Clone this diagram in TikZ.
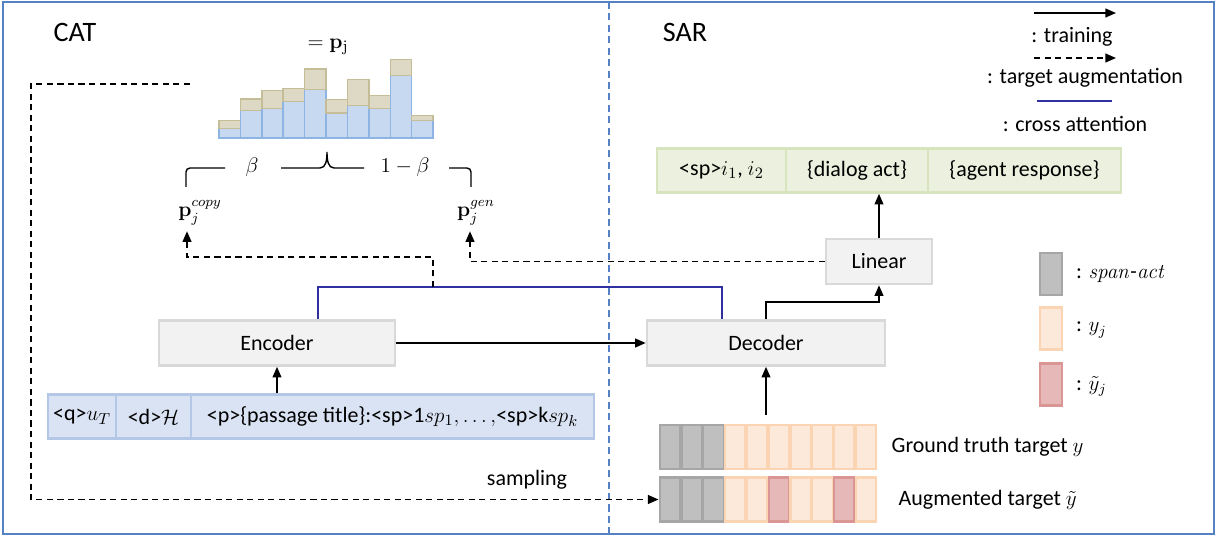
\documentclass[tikz,border=0pt]{standalone}
\usepackage{amsmath}
\usepackage[no-math]{fontspec}
\setmainfont{Carlito}
\usetikzlibrary{arrows.meta,calc}

\definecolor{framecol}{RGB}{84,130,196}
\definecolor{boxfill}{RGB}{242,242,242}
\definecolor{boxline}{RGB}{217,217,217}
\definecolor{inpfill}{RGB}{218,227,243}
\definecolor{inpline}{RGB}{180,199,231}
\definecolor{outfill}{RGB}{235,241,222}
\definecolor{outborder}{RGB}{215,228,189}
\definecolor{histblue}{RGB}{198,217,240}
\definecolor{histblueline}{RGB}{141,180,226}
\definecolor{histtan}{RGB}{221,217,196}
\definecolor{histtanline}{RGB}{196,189,151}
\definecolor{actfill}{RGB}{191,191,191}
\definecolor{actline}{RGB}{166,166,166}
\definecolor{yfill}{RGB}{253,233,217}
\definecolor{yline}{RGB}{251,212,180}
\definecolor{augfill}{RGB}{230,185,184}
\definecolor{augline}{RGB}{217,150,148}
\definecolor{attncol}{RGB}{48,48,160}

\tikzset{
    blockbox/.style={draw=boxline, fill=boxfill, line width=1.5pt, minimum height=0.9cm, inner sep=0pt},
    inpcell/.style={draw=inpline, fill=inpfill, line width=1.5pt, minimum height=0.88cm, inner sep=0pt},
    outcell/.style={draw=outborder, fill=outfill, line width=1.5pt, minimum height=0.88cm, inner sep=0pt},
    tokcell/.style={line width=1.3pt, minimum width=0.41cm, minimum height=0.88cm, inner sep=0pt},
    actcell/.style={tokcell, draw=actline, fill=actfill},
    ycell/.style={tokcell, draw=yline, fill=yfill},
    augcell/.style={tokcell, draw=augline, fill=augfill},
    legbox/.style={line width=1.3pt, minimum width=0.44cm, minimum height=0.84cm, inner sep=0pt},
    trainarrow/.style={-{Triangle[length=6pt,width=5pt]}, line width=0.9pt},
    dasharrow/.style={trainarrow, dash pattern=on 3.5pt off 2.5pt},
    xattnline/.style={draw=attncol, line width=0.9pt},
}

\begin{document}
\begin{tikzpicture}[x=0.02cm, y=-0.02cm, every node/.style={font=\fontsize{12.5}{15}\selectfont}]

    \useasboundingbox (0,0) rectangle (1218,537);

    % frame and divider
    \draw[framecol, line width=1.2pt] (3,2) rectangle (1214,534);
    \draw[framecol, line width=0.8pt, dash pattern=on 4pt off 2.5pt] (609,2) -- (609,534);

    \node (cattitle) at (75,32) {\fontsize{16}{19}\selectfont CAT};
    \node (sartitle) at (685,32) {\fontsize{16}{19}\selectfont SAR};

    % histogram p_j
    \foreach \i/\b/\t in {0/9.6/17.6, 1/27.3/39, 2/29.3/47.3, 3/36.3/49.3, 4/48.3/69,
                          5/25/38.3, 6/32.3/58.3, 7/29.3/42.6, 8/62.3/78.3, 9/17.3/22.6} {
        \draw[fill=histblue, draw=histblueline, line width=0.8pt]
            (219+21.4*\i,138) rectangle (240.4+21.4*\i,138-\b);
        \draw[fill=histtan, draw=histtanline, line width=0.8pt]
            (219+21.4*\i,138-\b) rectangle (240.4+21.4*\i,138-\t);
    }
    \node (pj) at (328,47) {$=\mathbf{p}_{\mathrm{j}}$};

    % beta brace
    \draw[line width=0.8pt] (186,187) -- (186,172) to[out=90,in=180] (190,168) -- (225,168);
    \node (beta) at (252,167) {\large$\beta$};
    \draw[line width=0.8pt] (281,168) -- (320,168) .. controls (326,168) and (327,160) .. (327,152)
        .. controls (327,160) and (328,168) .. (334,168) -- (364,168);
    \node (onembeta) at (405,167) {\large$1-\beta$};
    \draw[line width=0.8pt] (449,168) -- (467,168) to[out=0,in=90] (471,172) -- (471,187);

    \node (pcopy) at (200,213) {\large$\mathbf{p}_j^{copy}$};
    \node (pgen) at (476,213) {\large$\mathbf{p}_j^{gen}$};

    % encoder side
    \node[inpcell, minimum width=1.36cm] (inpq) at (82,416.5) {<q>$u_T$};
    \node[inpcell, minimum width=1.5cm] (inpd) at (153.5,416.5) {<d>$\mathcal{H}$};
    \node[inpcell, minimum width=8.06cm] (inpp) at (392.5,416.5)
        {<p>\{passage title\}:<sp>1$sp_1,\ldots,$<sp>k$sp_k$};
    \node[blockbox, minimum width=4.72cm] (encoder) at (277,343) {Encoder};

    % decoder side
    \node[blockbox, minimum width=4.76cm] (decoder) at (766,343) {Decoder};
    \node[blockbox, minimum width=2.12cm] (linear) at (879,261.5) {Linear};
    \node[outcell, minimum width=2.58cm] (outsp) at (721.5,170.5) {<sp>$i_1$, $i_2$};
    \node[outcell, minimum width=2.84cm] (outact) at (857,170.5) {\{dialog act\}};
    \node[outcell, minimum width=3.86cm] (outresp) at (1024.5,170.5) {\{agent response\}};

    % target rows
    \foreach \i in {0,...,9} {
        \ifnum\i<3
            \node[actcell] (gt\i) at (669.9+21.8*\i,447) {};
            \node[actcell] (aug\i) at (669.9+21.8*\i,499.5) {};
        \else
            \node[ycell] (gt\i) at (669.9+21.8*\i,447) {};
            \ifnum\i=5
                \node[augcell] (aug\i) at (669.9+21.8*\i,499.5) {};
            \else\ifnum\i=8
                \node[augcell] (aug\i) at (669.9+21.8*\i,499.5) {};
            \else
                \node[ycell] (aug\i) at (669.9+21.8*\i,499.5) {};
            \fi\fi
        \fi
    }
    \node[anchor=west] (gtlabel) at ([xshift=0.16cm]gt9.east) {Ground truth target $y$};
    \node[anchor=west] (auglabel) at ([xshift=0.3cm]aug9.east) {Augmented target $\tilde{y}$};

    % legend
    \coordinate (trainA) at (1034,13);
    \coordinate (trainB) at (1116,13);
    \draw[trainarrow] (trainA) -- (trainB);
    \node (trainlabel) at (1072,37) {: training};
    \coordinate (augA) at (1034,58);
    \coordinate (augB) at (1116,58);
    \draw[dasharrow] (augA) -- (augB);
    \node (auglegend) at (1085,78) {: target augmentation};
    \coordinate (attnA) at (1037,101);
    \coordinate (attnB) at (1112,101);
    \draw[xattnline] (attnA) -- (attnB);
    \node (attnlabel) at (1075,124) {: cross attention};

    \node[legbox, draw=actline, fill=actfill] (legact) at (1051,274) {};
    \node[anchor=west] (legactlabel) at (1070,274) {: \large$\mathit{span}\mbox{-}\mathit{act}$};
    \node[legbox, draw=yline, fill=yfill] (legy) at (1051,328.5) {};
    \node[anchor=west] (legylabel) at (1070,330) {: \large$y_j$};
    \node[legbox, draw=augline, fill=augfill] (legaug) at (1051,384.5) {};
    \node[anchor=west] (legauglabel) at (1070,386) {: \large$\tilde{y}_j$};

    % cross attention
    \coordinate (attntop) at (520,287);
    \draw[xattnline] ([xshift=0.82cm]encoder.north) |- (attntop) -| ([xshift=-0.88cm]decoder.north);

    % training arrows
    \draw[trainarrow] (encoder.south |- inpp.north) -- (encoder.south);
    \draw[trainarrow] (encoder) -- (decoder);
    \draw[trainarrow] ([yshift=0.18cm]decoder.south |- gt0.north) -- (decoder.south);
    \draw[trainarrow] (decoder.north) |- ($(decoder.north)!0.5!(linear.south)$) -| (linear.south);
    \draw[trainarrow] (linear.north) -- (linear.north |- outact.south);

    % target augmentation
    \coordinate (copytap) at (433,287);
    \draw[dasharrow] (copytap) -- (433,257) -| ([xshift=-0.26cm]pcopy.south);
    \draw[dasharrow] (linear.west) -| ([xshift=-0.12cm]pgen.south);

    \coordinate (smpstart) at (190,84);
    \coordinate (smpcorner) at (31,499.5);
    \draw[dasharrow] (smpstart) -| (smpcorner) -- (aug0.west);
    \node (sampling) at (527,480) {sampling};

\end{tikzpicture}
\end{document}
